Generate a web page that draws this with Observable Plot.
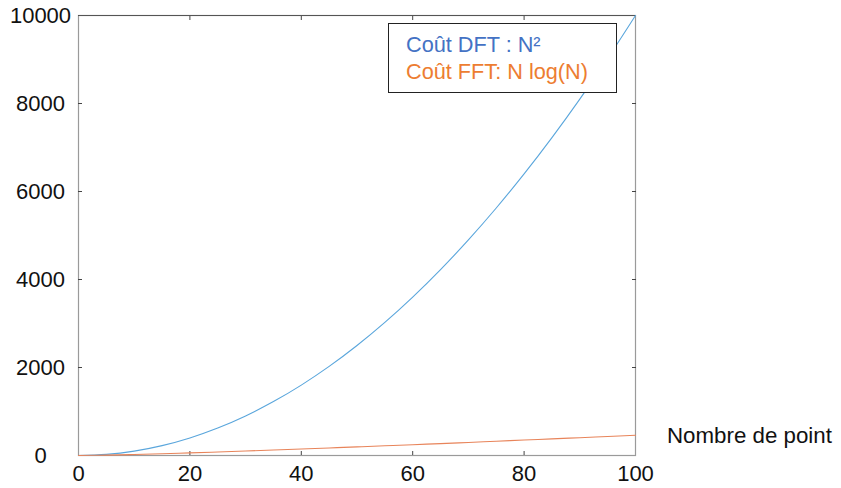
<!DOCTYPE html>
<html>
<head>
<meta charset="utf-8">
<script src="https://cdn.jsdelivr.net/npm/d3@7"></script>
<script src="https://cdn.jsdelivr.net/npm/@observablehq/plot@0.6"></script>
<style>
  html, body { margin: 0; padding: 0; background: #fff; }
  #wrap { position: relative; width: 841px; height: 488px; font-family: "Liberation Sans", Arial, sans-serif; }
  #legend { position: absolute; left: 388px; top: 23px; width: 229px; height: 70px; border: 1.3px solid #222; box-sizing: border-box; background: #fff; font-size: 21.7px; line-height: 27px; padding: 7px 0 0 17px; }
  #xlabel { position: absolute; left: 667px; top: 423px; font-size: 22.3px; color: #111; }
</style>
</head>
<body>
<div id="wrap">
  <div id="chart"></div>
  <div id="legend"><div style="color:#4472c4">Coût DFT : N²</div><div style="color:#ed7d31">Coût FFT: N log(N)</div></div>
  <div id="xlabel">Nombre de point</div>
</div>
<script>
const nPoints = [0,5,10,15,20,25,30,35,40,45,50,55,60,65,70,75,80,85,90,95,100];
const dftCost = [0,25,100,225,400,625,900,1225,1600,2025,2500,3025,3600,4225,4900,5625,6400,7225,8100,9025,10000];
const fftCost = [0,8,23,41,60,80,102,124,148,171,196,220,246,271,297,324,351,378,405,433,461];
const xTicks = [0,20,40,60,80,100];
const yTicks = [0,2000,4000,6000,8000,10000];

const dft = nPoints.map((n, i) => ({n, v: dftCost[i]}));
const fft = nPoints.map((n, i) => ({n, v: fftCost[i]}));
const innerX = xTicks.filter(d => d > 0 && d < 100);
const innerY = yTicks.filter(d => d > 0 && d < 10000);

const chart = Plot.plot({
  width: 841,
  height: 488,
  marginLeft: 78,
  marginRight: 206,
  marginTop: 15,
  marginBottom: 33,
  style: {fontFamily: "'Liberation Sans', Arial, sans-serif", fontSize: "22px", color: "#111", background: "#fff"},
  x: {domain: [0, 100]},
  y: {domain: [0, 10000]},
  marks: [
    Plot.frame({stroke: "#9a9a9a", strokeWidth: 1.2}),
    Plot.ruleY([10000], {stroke: "#555", strokeWidth: 1}),
    Plot.axisX({ticks: xTicks, tickSize: 0, tickPadding: 0, dy: 10, label: null, fontSize: "22px", tickFormat: d => String(d)}),
    Plot.axisX({ticks: innerX, anchor: "bottom", tickSize: -4, tickFormat: () => "", label: null, stroke: "#444"}),
    Plot.axisX({ticks: innerX, anchor: "top", tickSize: -4, tickFormat: () => "", label: null, stroke: "#444"}),
    Plot.axisY({ticks: yTicks, tickSize: 0, tickPadding: 0, textAnchor: "middle", dx: -38, label: null, fontSize: "22px", tickFormat: d => String(d)}),
    Plot.axisY({ticks: innerY, anchor: "left", tickSize: -4, tickFormat: () => "", label: null, stroke: "#444"}),
    Plot.axisY({ticks: innerY, anchor: "right", tickSize: -4, tickFormat: () => "", label: null, stroke: "#444"}),
    Plot.line(dft, {x: "n", y: "v", stroke: "#5aa6dc", strokeWidth: 1.1, curve: "catmull-rom"}),
    Plot.line(fft, {x: "n", y: "v", stroke: "#e8845a", strokeWidth: 1.1, curve: "catmull-rom"})
  ]
});
document.getElementById("chart").appendChild(chart);
</script>
</body>
</html>
